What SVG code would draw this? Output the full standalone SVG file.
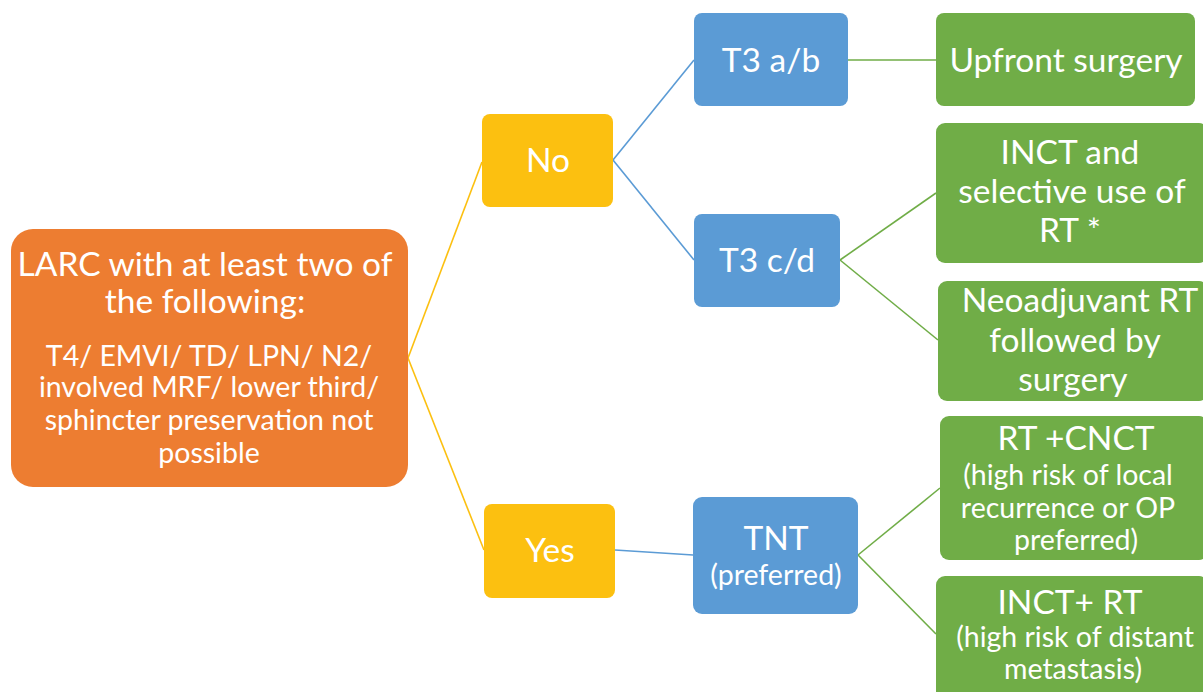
<svg xmlns="http://www.w3.org/2000/svg" width="1203" height="692" viewBox="0 0 1203 692">
<style>
text{font-family:Lato,"Open Sans","Liberation Sans",sans-serif;fill:#fff;text-anchor:middle}
.l{font-size:33.5px}
.s{font-size:28.5px}
.or{fill:#ED7D31}
.ye{fill:#FCC010}
.bl{fill:#5B9BD5}
.gr{fill:#70AD47}
.cy{stroke:#FCC010;stroke-width:1.6;fill:none}
.cb{stroke:#5B9BD5;stroke-width:1.6;fill:none}
.cg{stroke:#70AD47;stroke-width:1.6;fill:none}
</style>
<rect width="1203" height="692" fill="#fff"/>
<g id="connectors">
<path class="cy" d="M408 358 L482 162"/>
<path class="cy" d="M408 358 L484 550"/>
<path class="cb" d="M613 160 L694 60"/>
<path class="cb" d="M613 160 L694 260"/>
<path class="cb" d="M615 550 L693 555"/>
<path class="cg" d="M848 60 L936 60"/>
<path class="cg" d="M840 260 L936 193"/>
<path class="cg" d="M840 260 L938 340"/>
<path class="cg" d="M858 555 L940 488"/>
<path class="cg" d="M858 555 L936 634"/>
</g>
<g id="larc">
<rect class="or" x="11" y="229" width="397" height="258" rx="22"/>
<text class="l" x="205" y="276">LARC with at least two of</text>
<text class="l" x="205" y="313">the following:</text>
<text class="s" x="209" y="366">T4/ EMVI/ TD/ LPN/ N2/</text>
<text class="s" x="209" y="397">involved MRF/ lower third/</text>
<text class="s" x="209" y="430">sphincter preservation not</text>
<text class="s" x="209" y="463">possible</text>
</g>
<g id="no">
<rect class="ye" x="482" y="114" width="131" height="93" rx="8"/>
<text class="l" x="548" y="172">No</text>
</g>
<g id="yes">
<rect class="ye" x="484" y="504" width="131" height="94" rx="8"/>
<text class="l" x="550" y="562">Yes</text>
</g>
<g id="t3ab">
<rect class="bl" x="694" y="13" width="154" height="93" rx="8"/>
<text class="l" x="771" y="72">T3 a/b</text>
</g>
<g id="t3cd">
<rect class="bl" x="694" y="214" width="146" height="93" rx="8"/>
<text class="l" x="767" y="272">T3 c/d</text>
</g>
<g id="tnt">
<rect class="bl" x="693" y="497" width="165" height="117" rx="9"/>
<text class="l" x="776" y="550">TNT</text>
<text class="s" x="776" y="585">(preferred)</text>
</g>
<g id="upfront">
<rect class="gr" x="936" y="13" width="259" height="93" rx="8"/>
<text class="l" x="1066" y="72">Upfront surgery</text>
</g>
<g id="inct-selective">
<rect class="gr" x="936" y="123" width="272" height="140" rx="9"/>
<text class="l" x="1070" y="164">INCT and</text>
<text class="l" x="1072" y="203">selective use of</text>
<text class="l" x="1070" y="242">RT *</text>
</g>
<g id="neoadjuvant">
<rect class="gr" x="938" y="281" width="270" height="120" rx="9"/>
<text class="l" x="1080" y="312">Neoadjuvant RT</text>
<text class="l" x="1075" y="352">followed by</text>
<text class="l" x="1073" y="391">surgery</text>
</g>
<g id="rt-cnct">
<rect class="gr" x="940" y="416" width="268" height="144" rx="9"/>
<text class="l" x="1076" y="450">RT +CNCT</text>
<text class="s" x="1068" y="485">(high risk of local</text>
<text class="s" x="1068" y="518">recurrence or OP</text>
<text class="s" x="1076" y="550">preferred)</text>
</g>
<g id="inct-rt">
<rect class="gr" x="936" y="576" width="272" height="126" rx="9"/>
<text class="l" x="1070" y="614">INCT+ RT</text>
<text class="s" x="1075" y="647">(high risk of distant</text>
<text class="s" x="1073" y="679">metastasis)</text>
</g>
</svg>
